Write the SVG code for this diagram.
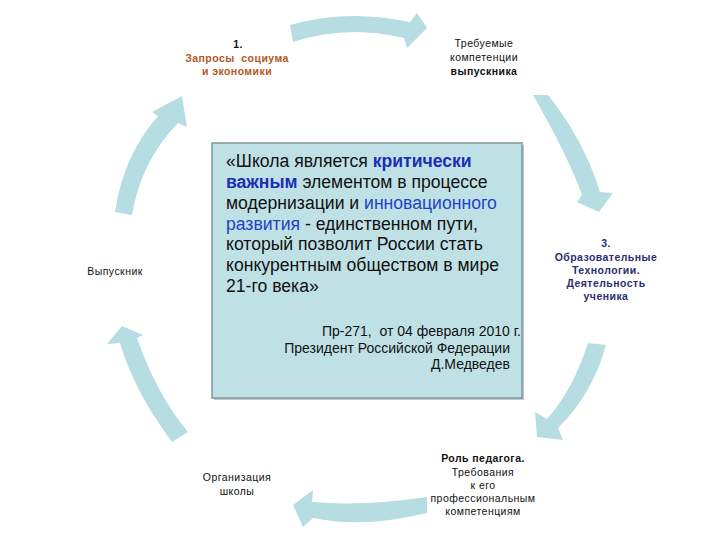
<svg xmlns="http://www.w3.org/2000/svg" width="720" height="540" viewBox="0 0 720 540">
<style>
text{font-family:"Liberation Sans",Arial,sans-serif;}
.arr{fill:#b5dde2;stroke:none;}
.s{font-size:10.5px;letter-spacing:0.45px;fill:#111;text-anchor:middle;}
.b{font-weight:bold;}
.br{fill:#b4571c;font-weight:bold;}
.nv{fill:#2a2e6e;font-weight:bold;}
.q{font-size:17.6px;fill:#111;}
.kb{fill:#1a2fb4;font-weight:bold;}
.kn{fill:#2342c4;}
.sig{font-size:14px;fill:#111;text-anchor:end;}
</style>
<rect width="720" height="540" fill="#ffffff"/>
<g id="connectors">
<path class="arr" d="M290,25 Q347,8.5 410,22 L417,13 L427,28 L407,48 L404,38 Q347,24 293,42 Z"/>
<path class="arr" d="M533,95 L548,95 Q584,140 600,192 L613,193 L599,212 L577,202 L582,195 Q568,156 533,95 Z"/>
<path class="arr" d="M588,343 L606,345 Q592,395 558,428 L563,440 L537,437 L535,412 L547,419 Q573,390 588,343 Z"/>
<path class="arr" d="M427,497 Q363,506.5 312,502 L313,490 L293,505 L303,527 L313,518 Q363,528.5 427,513 Z"/>
<path class="arr" d="M172,442 Q134,391 120,343 L107,344 L122,326 L143,335 L137,338 Q157,395 188,432 Z"/>
<path class="arr" d="M115,212 Q123,156 158,116 L152,112 L182,96 L187,127 L178,123 Q141,161 132,215 Z"/>
</g>
<g id="center">
<rect x="214" y="145" width="310" height="255" fill="#c4c4c4"/>
<rect x="212" y="143" width="310" height="255" fill="#bfe1e5" stroke="#819f9f" stroke-width="1.6"/>
<text class="q" x="226" y="167">«Школа является <tspan class="kb">критически</tspan></text>
<text class="q" x="226" y="188"><tspan class="kb">важным</tspan> элементом в процессе</text>
<text class="q" x="226" y="209">модернизации и <tspan class="kn">инновационного</tspan></text>
<text class="q" x="226" y="230"><tspan class="kn">развития</tspan> - единственном пути,</text>
<text class="q" x="226" y="250">который позволит России стать</text>
<text class="q" x="226" y="271">конкурентным обществом в мире</text>
<text class="q" x="226" y="292">21-го века»</text>
<text class="sig" x="521" y="336" xml:space="preserve">Пр-271,  от 04 февраля 2010 г.</text>
<text class="sig" x="510" y="353">Президент Российской Федерации</text>
<text class="sig" x="510" y="369">Д.Медведев</text>
</g>
<g id="n1">
<text class="s b" x="238" y="48">1.</text>
<text class="s br" x="237" y="62" xml:space="preserve">Запросы  социума</text>
<text class="s br" x="237" y="75">и экономики</text>
</g>
<g id="n2">
<text class="s" x="484" y="47">Требуемые</text>
<text class="s" x="484" y="61">компетенции</text>
<text class="s b" x="484" y="75">выпускника</text>
</g>
<g id="n3">
<text class="s nv" x="606" y="247">3.</text>
<text class="s nv" x="606" y="261">Образовательные</text>
<text class="s nv" x="606" y="274">Технологии.</text>
<text class="s nv" x="606" y="287">Деятельность</text>
<text class="s nv" x="606" y="300">ученика</text>
</g>
<g id="n4">
<text class="s b" x="483" y="462">Роль педагога.</text>
<text class="s" x="483" y="476">Требования</text>
<text class="s" x="483" y="489">к его</text>
<text class="s" x="483" y="502">профессиональным</text>
<text class="s" x="483" y="515">компетенциям</text>
</g>
<g id="n5">
<text class="s" x="237" y="481">Организация</text>
<text class="s" x="237" y="495">школы</text>
</g>
<g id="n6">
<text class="s" x="115" y="275">Выпускник</text>
</g>
</svg>
